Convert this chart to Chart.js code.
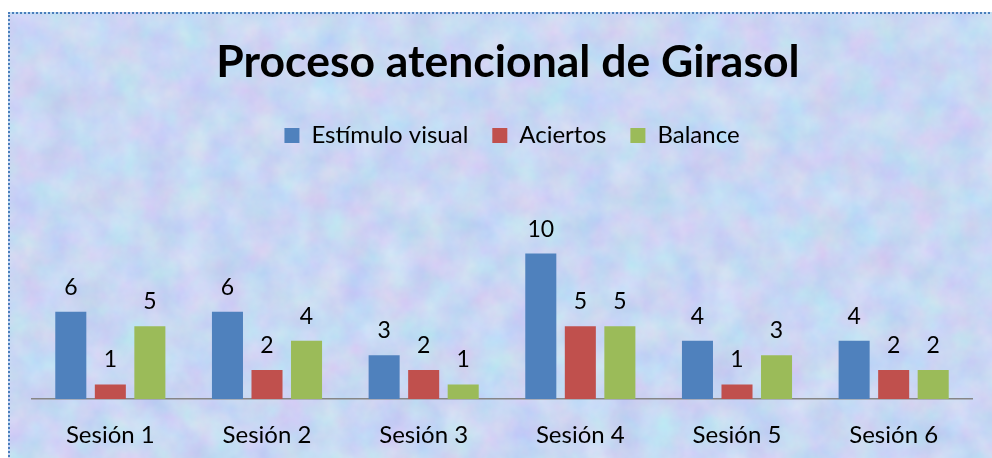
<!DOCTYPE html>
<html>
<head>
<meta charset="utf-8">
<script src="https://cdn.jsdelivr.net/npm/chart.js@4.4.1/dist/chart.umd.min.js"></script>
<style>
  html, body { margin: 0; padding: 0; background: #ffffff; overflow: hidden; }
  #wrap { position: relative; width: 992px; height: 458px; }
  #bg {
    position: absolute; left: 8px; top: 12px; width: 990px; height: 460px;
    border: 2px dotted #4a7ebb; box-sizing: border-box;
    background-color: #cad6f3;
    background-image: url("data:image/svg+xml;utf8,<svg xmlns='http://www.w3.org/2000/svg' width='990' height='460'><filter id='n' x='0' y='0' width='100%' height='100%' color-interpolation-filters='sRGB'><feTurbulence type='fractalNoise' baseFrequency='0.03' numOctaves='4' seed='7'/><feColorMatrix type='matrix' values='0.18 0 0 0 0.695  0 0.15 0 0 0.768  0 0 0.06 0 0.923  0 0 0 0 1'/></filter><rect width='990' height='460' filter='url(%23n)'/></svg>");
  }
  #c { position: absolute; left: 0; top: 0; }
</style>
</head>
<body>
<div id="wrap">
  <div id="bg"></div>
  <canvas id="c" width="992" height="458"></canvas>
</div>
<script>
const categories = ["Sesión 1", "Sesión 2", "Sesión 3", "Sesión 4", "Sesión 5", "Sesión 6"];
const estimuloVisual = [6, 6, 3, 10, 4, 4];
const aciertos = [1, 2, 2, 5, 1, 2];
const balance = [5, 4, 1, 5, 3, 2];
const seriesNames = ["Estímulo visual", "Aciertos", "Balance"];
const titleText = "Proceso atencional de Girasol";

const FONT = "Lato, 'Open Sans', 'DejaVu Sans', sans-serif";

const legendSpace = {
  id: 'legendSpace',
  beforeInit(chart) {
    const origFit = chart.legend.fit;
    chart.legend.fit = function () {
      origFit.bind(chart.legend)();
      this.height += 67;
    };
  },
  afterLayout(chart) {
    if (chart.titleBlock) { chart.titleBlock.left += 6; chart.titleBlock.right += 6; }
    if (chart.legend) { chart.legend.left += 10; chart.legend.right += 10; }
  }
};

const barLabels = {
  id: 'barLabels',
  afterDatasetsDraw(chart) {
    const ctx = chart.ctx;
    ctx.save();
    ctx.font = "23px " + FONT;
    ctx.fillStyle = "#000000";
    ctx.textAlign = "center";
    ctx.textBaseline = "alphabetic";
    chart.data.datasets.forEach((ds, i) => {
      const meta = chart.getDatasetMeta(i);
      meta.data.forEach((bar, j) => {
        ctx.fillText(String(ds.data[j]), bar.x, bar.y - 17);
      });
    });
    ctx.restore();
  }
};

new Chart(document.getElementById('c'), {
  type: 'bar',
  data: {
    labels: categories,
    datasets: [
      { label: seriesNames[0], data: estimuloVisual, backgroundColor: '#4f81bd' },
      { label: seriesNames[1], data: aciertos, backgroundColor: '#c0504d' },
      { label: seriesNames[2], data: balance, backgroundColor: '#9bbb59' }
    ]
  },
  options: {
    responsive: false,
    animation: false,
    events: [],
    datasets: { bar: { categoryPercentage: 0.757, barPercentage: 0.785 } },
    layout: { padding: { left: 32, right: 20, top: 0, bottom: 10 } },
    plugins: {
      title: {
        display: true,
        text: titleText,
        color: '#000000',
        font: { family: FONT, size: 44.5, weight: 'bold' },
        padding: { top: 36, bottom: 10 }
      },
      legend: {
        display: true,
        labels: {
          color: '#000000',
          font: { family: FONT, size: 24 },
          boxWidth: 15,
          boxHeight: 15,
          padding: 24
        }
      },
      tooltip: { enabled: false }
    },
    scales: {
      x: {
        grid: { display: true, drawOnChartArea: false, drawTicks: false },
        border: { display: true, color: '#868686', width: 1.5 },
        ticks: { color: '#000000', font: { family: FONT, size: 24 }, padding: 22 },
        afterFit(scale) { scale.height = 49; }
      },
      y: {
        display: false,
        min: 0,
        max: 12
      }
    }
  },
  plugins: [legendSpace, barLabels]
});
</script>
</body>
</html>
